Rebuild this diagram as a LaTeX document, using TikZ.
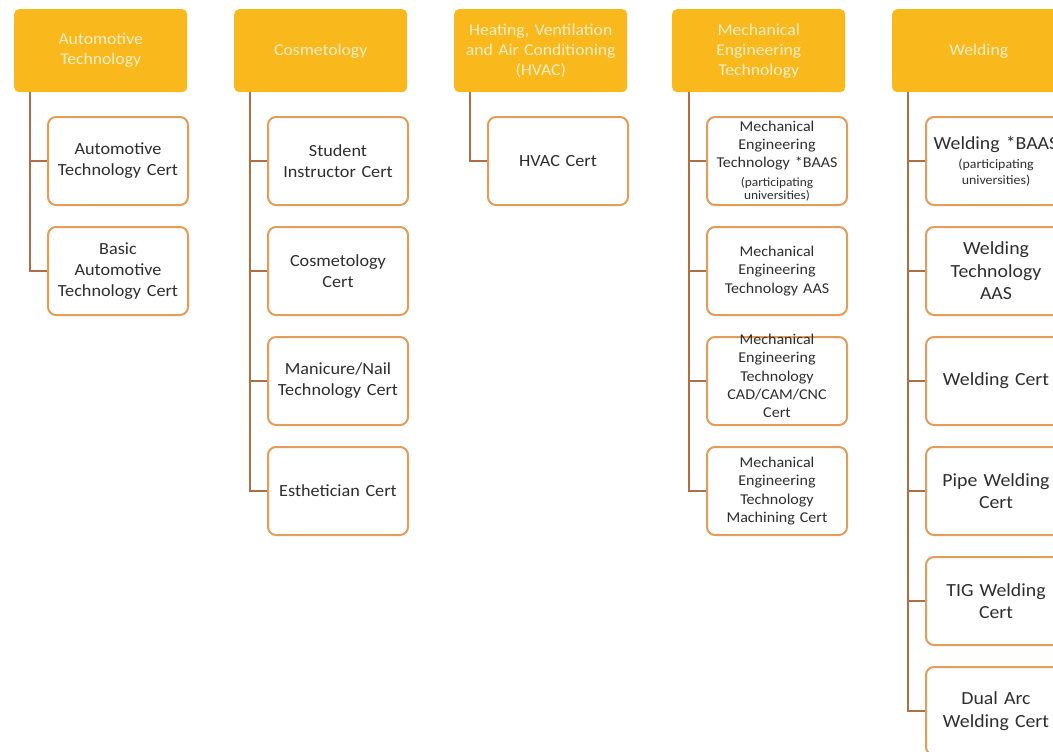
\documentclass[tikz,border=0pt]{standalone}
\usepackage{fontspec}
\setmainfont{Carlito}[FakeStretch=1.07]
\definecolor{hdr}{HTML}{F9B81B}
\definecolor{hdrtext}{HTML}{FDEFCB}
\definecolor{brd}{HTML}{E39D58}
\definecolor{lnk}{HTML}{AD7046}
\definecolor{txt}{HTML}{2E2E2E}
\newcommand\smalltxt{\fontsize{12.5}{13.5}\selectfont}
\newcommand\smallweld{\fontsize{13}{16}\selectfont}
\begin{document}
\begin{tikzpicture}[x=1pt,y=-1pt,
  hdrbox/.style={fill=hdr, rounded corners=5pt, minimum width=173pt, minimum height=83pt,
    anchor=north west, align=center, text width=170pt, text=hdrtext, inner sep=1pt,
    font=\fontsize{16.5}{20}\selectfont},
  certbox/.style={draw=brd, line width=2pt, fill=white, rounded corners=8pt,
    minimum width=140pt, minimum height=88pt, anchor=north west, align=center,
    text width=136pt, text=txt, inner sep=1pt, font=\fontsize{17}{21}\selectfont},
  mechbox/.style={certbox, font=\fontsize{15}{18.3}\selectfont},
  weldbox/.style={certbox, font=\fontsize{18.5}{22.5}\selectfont},
  conn/.style={draw=lnk, line width=2pt}]
\useasboundingbox (0,0) rectangle (1053,752);
\clip (0,0) rectangle (1053,752);
\fill[white] (0,0) rectangle (1053,752);

% headers
\node[hdrbox] (h1) at (14,9) {Automotive\\Technology};
\node[hdrbox] (h2) at (234,9) {Cosmetology};
\node[hdrbox] (h3) at (454,9) {Heating, Ventilation\\and Air Conditioning\\(HVAC)};
\node[hdrbox] (h4) at (672,9) {Mechanical\\Engineering\\Technology};
\node[hdrbox] (h5) at (892,9) {Welding};

% spine tops
\coordinate (s1) at (30,92);
\coordinate (s2) at (250,92);
\coordinate (s3) at (470,92);
\coordinate (s4) at (689,92);
\coordinate (s5) at (908,92);

% column 1
\node[certbox] (a1) at (47,116) {Automotive\\Technology Cert};
\node[certbox] (a2) at (47,226) {Basic\\Automotive\\Technology Cert};
% column 2
\node[certbox] (b1) at (267,116) {Student\\Instructor Cert};
\node[certbox] (b2) at (267,226) {Cosmetology\\Cert};
\node[certbox] (b3) at (267,336) {Manicure/Nail\\Technology Cert};
\node[certbox] (b4) at (267,446) {Esthetician Cert};
% column 3
\node[certbox] (c1) at (487,116) {HVAC Cert};
% column 4
\node[mechbox] (d1) at (706,116) {Mechanical\\Engineering\\Technology *BAAS\par\vspace{5pt}{\smalltxt(participating\\universities)\par}};
\node[mechbox] (d2) at (706,226) {Mechanical\\Engineering\\Technology AAS};
\node[mechbox] (d3) at (706,336) {\smash{\begin{tabular}{@{}c@{}}Mechanical\\Engineering\\Technology\\CAD/CAM/CNC\\Cert\end{tabular}}};
\node[mechbox] (d4) at (706,446) {Mechanical\\Engineering\\Technology\\Machining Cert};
% column 5
\node[weldbox] (e1) at (925,116) {Welding *BAAS\par\vspace{3pt}{\smallweld(participating\\universities)\par}};
\node[weldbox] (e2) at (925,226) {Welding\\Technology\\AAS};
\node[weldbox] (e3) at (925,336) {Welding Cert};
\node[weldbox] (e4) at (925,446) {Pipe Welding\\Cert};
\node[weldbox] (e5) at (925,556) {TIG Welding\\Cert};
\node[weldbox] (e6) at (925,666) {Dual Arc\\Welding Cert};

% connectors
\foreach \c in {a1,a2} \draw[conn] (s1) |- (\c.west);
\foreach \c in {b1,b2,b3,b4} \draw[conn] (s2) |- (\c.west);
\foreach \c in {c1} \draw[conn] (s3) |- (\c.west);
\foreach \c in {d1,d2,d3,d4} \draw[conn] (s4) |- (\c.west);
\foreach \c in {e1,e2,e3,e4,e5,e6} \draw[conn] (s5) |- (\c.west);
\end{tikzpicture}
\end{document}
